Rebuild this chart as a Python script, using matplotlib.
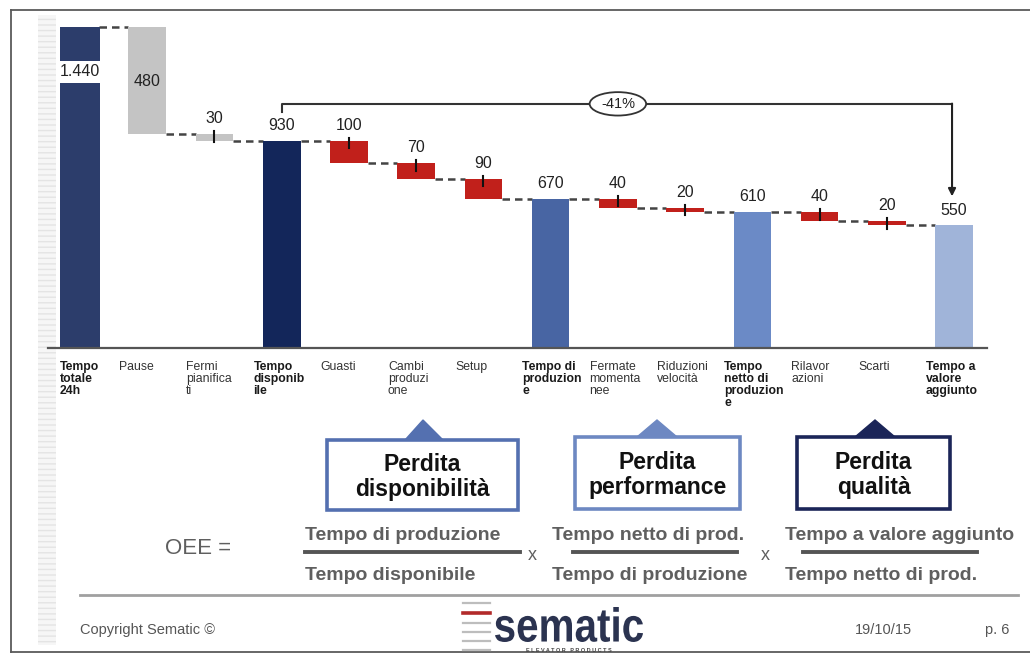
import numpy as np
import matplotlib
matplotlib.use("Agg")
import matplotlib.pyplot as plt
from matplotlib.patches import Rectangle, Polygon, Ellipse, PathPatch
from matplotlib.lines import Line2D
from matplotlib.textpath import TextPath
from matplotlib.font_manager import FontProperties
from matplotlib.transforms import Affine2D

plt.rcParams['font.family'] = ['Liberation Sans', 'DejaVu Sans']

# waterfall data (minutes in 24h)
categories = ["Tempo\ntotale\n24h", "Pause", "Fermi\npianifica\nti", "Tempo\ndisponib\nile",
              "Guasti", "Cambi\nproduzi\none", "Setup", "Tempo di\nproduzion\ne",
              "Fermate\nmomenta\nnee", "Riduzioni\nvelocità", "Tempo\nnetto di\nproduzion\ne",
              "Rilavor\nazioni", "Scarti", "Tempo a\nvalore\naggiunto"]
values = [1440, 480, 30, 930, 100, 70, 90, 670, 40, 20, 610, 40, 20, 550]
is_total = [True, False, False, True, False, False, False, True, False, False, True, False, False, True]
value_labels = ["1.440", "480", "30", "930", "100", "70", "90", "670", "40", "20", "610", "40", "20", "550"]
change_label = "-41%"

losses = ["Perdita\ndisponibilità", "Perdita\nperformance", "Perdita\nqualità"]
oee_num = ["Tempo di produzione", "Tempo netto di prod.", "Tempo a valore aggiunto"]
oee_den = ["Tempo disponibile", "Tempo di produzione", "Tempo netto di prod."]

W, H = 1030, 656
def fx(x):
    return x / W
def fy(y):
    return 1 - y / H

fig = plt.figure(figsize=(W / 100, H / 100), dpi=100)
fig.patch.set_facecolor('white')

# slide frame
for xs, ys in [([11, 1030], [10, 10]), ([11, 11], [10, 652]), ([11, 1030], [652, 652])]:
    fig.add_artist(Line2D([fx(x) for x in xs], [fy(y) for y in ys], color='#5a5a5a', lw=1.3))
strip = Rectangle((fx(38), fy(645)), fx(18), (645 - 15) / H, transform=fig.transFigure,
                  facecolor='#f6f6f6', edgecolor='#e4e4e4', hatch='---', lw=0, zorder=-1)
fig.add_artist(strip)

ax = fig.add_axes([fx(48), fy(348), fx(987) - fx(48), (348 - 20) / H])
ax.set_xlim(-0.476, 13.49)
ax.set_ylim(0, 1471)
for s in ['top', 'right', 'left']:
    ax.spines[s].set_visible(False)
ax.spines['bottom'].set_color('#555555')
ax.spines['bottom'].set_linewidth(1.6)
ax.set_xticks([])
ax.set_yticks([])
ax.patch.set_alpha(0)

total_colors = {0: '#2c3d6b', 3: '#13265a', 7: '#4865a3', 10: '#6b8ac6', 13: '#a0b4d9'}
width = 0.56

bottoms, tops = [], []
running = 0
for i, v in enumerate(values):
    if is_total[i]:
        running = v
        bottoms.append(0)
        tops.append(v)
    else:
        bottoms.append(running - v)
        tops.append(running)
        running -= v

for i, v in enumerate(values):
    if is_total[i]:
        color = total_colors[i]
    elif i in (1, 2):
        color = '#c4c4c4'
    else:
        color = '#c1201b'
    w = 0.6 if i == 0 else width
    ax.bar(i, tops[i] - bottoms[i], bottom=bottoms[i], width=w, color=color, zorder=2)
    if not is_total[i] and i != 1:
        ax.plot([i, i], [tops[i] + 12, tops[i] - 35], color='#111111', lw=1.5, zorder=3)

# dashed connectors between bars
for i in range(len(values) - 1):
    level = tops[i] if is_total[i] else bottoms[i]
    ax.plot([i + width / 2, i + 1 - width / 2], [level, level], color='#444444', lw=1.8,
            linestyle=(0, (3, 2)), zorder=1)

# value labels
for i, lab in enumerate(value_labels):
    if i == 0:
        ax.text(i, 1238, lab, ha='center', va='center', fontsize=11.5, color='#222222', zorder=4,
                bbox=dict(facecolor='white', edgecolor='none', pad=2.5))
    elif i == 1:
        ax.text(i, 1193, lab, ha='center', va='center', fontsize=11.5, color='#222222', zorder=4)
    else:
        ax.text(i, tops[i] + 35, lab, ha='center', va='bottom', fontsize=11.5, color='#222222', zorder=4)

# category labels under the axis
for i, lab in enumerate(categories):
    off = 0.3 if i == 0 else 0.42
    ax.text(i - off, -60, lab, ha='left', va='top', fontsize=8.8, linespacing=1.0,
            fontweight='bold' if is_total[i] else 'normal',
            color='#1a1a1a' if is_total[i] else '#333333', clip_on=False)

# bracket showing the overall change
ax.plot([3, 3, 12.97], [1059, 1095, 1095], color='#333333', lw=1.5, clip_on=False, zorder=3)
ax.annotate('', xy=(12.97, 680), xytext=(12.97, 1096),
            arrowprops=dict(arrowstyle='-|>', color='#222222', lw=1.5, shrinkA=0, shrinkB=0,
                            mutation_scale=11), annotation_clip=False)
ax.add_patch(Ellipse((8.0, 1095), 0.84, 105, facecolor='white', edgecolor='#333333', lw=1.3,
                     clip_on=False, zorder=5))
ax.text(8.0, 1095, change_label, ha='center', va='center', fontsize=10.5, color='#222222', zorder=6)

# loss category callouts
boxes = [((327, 440, 518, 510), (405, 443, 423), '#5470b0'),
         ((575, 437, 740, 509), (637, 677, 657), '#6d88c2'),
         ((797, 437, 950, 509), (855, 895, 875), '#1b2558')]
for text, ((x0, y0, x1, y1), (t0, t1, tc), col) in zip(losses, boxes):
    fig.add_artist(Polygon([(fx(t0), fy(y0)), (fx(t1), fy(y0)), (fx(tc), fy(420))], closed=True,
                           transform=fig.transFigure, facecolor=col, edgecolor=col, lw=1))
    fig.add_artist(Rectangle((fx(x0), fy(y1)), fx(x1 - x0), (y1 - y0) / H, transform=fig.transFigure,
                             facecolor='white', edgecolor=col, lw=2.6))
    fig.text(fx((x0 + x1) / 2), fy((y0 + y1) / 2 + 2), text, ha='center', va='center', fontsize=16.5,
             fontweight='bold', color='#111111', linespacing=1.1)

# OEE formula
grey = '#5f5f5f'
fig.text(fx(165), fy(548), "OEE =", ha='left', va='center', fontsize=16, color=grey)
num_x = [305, 552, 785]
bars_x = [(305, 520), (573, 737), (803, 977)]
for k in range(3):
    fig.text(fx(num_x[k]), fy(535), oee_num[k], ha='left', va='center', fontsize=14,
             fontweight='bold', color=grey)
    fig.text(fx(num_x[k]), fy(576), oee_den[k], ha='left', va='center', fontsize=14,
             fontweight='bold', color=grey)
    fig.add_artist(Line2D([fx(bars_x[k][0]), fx(bars_x[k][1])], [fy(551.5)] * 2, color='#555555', lw=2.8))
for xm in [532, 765]:
    fig.text(fx(xm), fy(555), "x", ha='center', va='center', fontsize=13, color=grey)

# footer
fig.add_artist(Line2D([fx(80), fx(1018)], [fy(595)] * 2, color='#a0a0a0', lw=2))
fig.text(fx(80), fy(630), "Copyright Sematic ©", ha='left', va='center', fontsize=10.5, color='#555555')
fig.text(fx(855), fy(630), "19/10/15", ha='left', va='center', fontsize=10.5, color='#555555')
fig.text(fx(985), fy(630), "p. 6", ha='left', va='center', fontsize=10.5, color='#555555')

# logo: stripes + stretched wordmark
for k, ys in enumerate([603, 613, 623, 632, 641, 650]):
    red = (k == 1)
    fig.add_artist(Line2D([fx(463), fx(490)], [fy(ys)] * 2, color='#b22a2a' if red else '#bdbdbd',
                          lw=2.6 if red else 1.6))
tp = TextPath((0, 0), "sematic", size=1, prop=FontProperties(family='Liberation Sans', weight='bold'))
ext = tp.get_extents()
lx0, lx1, ly_top, ly_base = 495, 643, 607, 642
sx = fx(lx1 - lx0) / ext.width
sy = ((ly_base - ly_top) / H) / ext.height
tr = Affine2D().translate(-ext.x0, -ext.y0).scale(sx, sy).translate(fx(lx0), fy(ly_base)) + fig.transFigure
fig.add_artist(PathPatch(tp, transform=tr, facecolor='#2b3350', edgecolor='none'))
fig.text(fx(569), fy(650), "E L E V A T O R   P R O D U C T S", ha='center', va='center',
         fontsize=4, color='#444444', fontweight='bold')

fig.savefig("out.png", dpi=100)
